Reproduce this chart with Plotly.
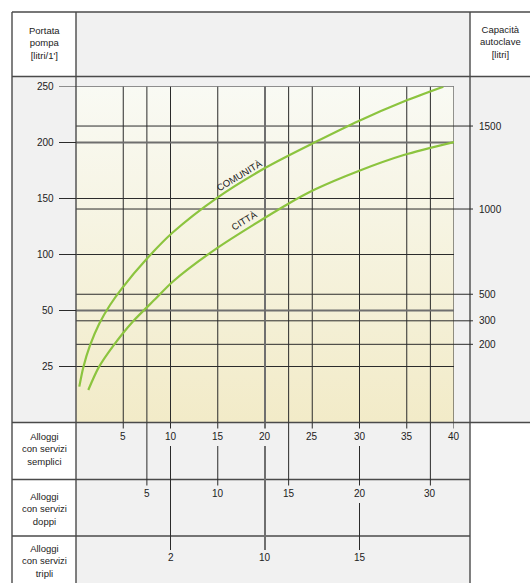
#!/usr/bin/env python3

import numpy as np
import plotly.graph_objects as go

# left scale (portata pompa, litri/1') - ticks are equally spaced on the drawing
portata_ticks = [25, 50, 100, 150, 200, 250]
scala_portata = [0, 25, 50, 100, 150, 200, 250]

# right scale (capacita autoclave, litri) and the flow each one lines up with
capacita_ticks = [1500, 1000, 500, 300, 200]
capacita_in_portata = [214.7, 140.6, 64.5, 45.4, 34.9]

# bottom scales: number of flats, expressed on the "servizi semplici" axis
semplici_ticks = [5, 10, 15, 20, 25, 30, 35, 40]
doppi_ticks = [5, 10, 15, 20, 30]
doppi_in_semplici = [7.5, 15, 22.5, 30, 37.5]
tripli_ticks = [2, 10, 15]
tripli_in_semplici = [10, 20, 30]

# curves (alloggi semplici -> portata)
comunita_alloggi = [0.35, 0.77, 1.48, 2.47, 3.60, 4.84, 7.54, 10.23, 14.89, 20.14, 25.32, 29.98, 34.68, 38.87]
comunita_portata = [16.0, 24.6, 34.4, 44.2, 54.9, 69.6, 96.6, 119.6, 150.4, 177.9, 200.4, 219.5, 236.6, 249.8]
citta_alloggi = [1.30, 2.40, 3.88, 6.0, 8.47, 10.23, 14.89, 22.43, 25.32, 29.98, 34.68, 40.0]
citta_portata = [14.5, 24.6, 33.9, 45.0, 60.9, 75.7, 105.5, 145.1, 158.2, 174.8, 188.8, 200.4]

font_family = 'Liberation Sans, Arial, sans-serif'
text_color = '#222222'
line_color = '#2b2b2b'
frame_color = '#4a4a4a'
grey_bg = '#f1f1f1'
green = '#8cc43f'
W, H = 530, 583

# table geometry (pixels)
col_left, col_mid, col_right = 12, 76, 470
row_top, row_head, row_plot, row_semp, row_dopp = 12, 76.5, 422.5, 479.5, 536
plot_top, plot_right = 86.5, 454
label_y = {'semplici': 436, 'doppi': 493, 'tripli': 557.5}


def px(x):
	return x / W


def py(y):
	return 1 - y / H


def scala(q):
	return np.interp(q, scala_portata, list(range(len(scala_portata))))


ymax = len(scala_portata) - 1
xmax = semplici_ticks[-1]

fig = go.Figure()

# plot background with vertical gradient
fig.add_trace(go.Scatter(
	x=[0, xmax, xmax, 0, 0], y=[0, 0, ymax, ymax, 0],
	fill='toself', mode='none', hoverinfo='skip',
	fillgradient=dict(type='vertical', colorscale=[[0, '#f2ebc8'], [1, '#f9faf4']], start=0, stop=ymax),
))

# vertical grid inside the plot
vx = sorted(set(semplici_ticks + doppi_in_semplici + tripli_in_semplici))
gx, gy = [], []
for x in vx:
	gx += [x, x, None]
	gy += [0, ymax, None]
# horizontal grid inside the plot
for q in portata_ticks + capacita_in_portata:
	y = float(scala(q))
	gx += [0, xmax, None]
	gy += [y, y, None]
fig.add_trace(go.Scatter(x=gx, y=gy, mode='lines', line=dict(color=line_color, width=1), hoverinfo='skip'))

# a few heavier grey lines
hx, hy = [20, 20, None], [0, ymax, None]
for q in [200, 50]:
	y = float(scala(q))
	hx += [0, xmax, None]
	hy += [y, y, None]
fig.add_trace(go.Scatter(x=hx, y=hy, mode='lines', line=dict(color='#6f6f6f', width=2), hoverinfo='skip'))

# curves
fig.add_trace(go.Scatter(x=comunita_alloggi, y=scala(comunita_portata), mode='lines',
	line=dict(color=green, width=2.2, shape='spline', smoothing=0.8), hoverinfo='skip'))
fig.add_trace(go.Scatter(x=citta_alloggi, y=scala(citta_portata), mode='lines',
	line=dict(color=green, width=2.2, shape='spline', smoothing=0.8), hoverinfo='skip'))

shapes = []


def rect(x0, y0, x1, y1, color):
	shapes.append(dict(type='rect', xref='paper', yref='paper', x0=px(x0), x1=px(x1), y0=py(y0), y1=py(y1),
		fillcolor=color, line_width=0, layer='below'))


def hline(y, x0, x1, color=frame_color, width=1.4):
	shapes.append(dict(type='line', xref='paper', yref='paper', x0=px(x0), x1=px(x1), y0=py(y), y1=py(y),
		line=dict(color=color, width=width)))


def vline(x, y0, y1, color=frame_color, width=1.4):
	shapes.append(dict(type='line', xref='paper', yref='paper', x0=px(x), x1=px(x), y0=py(y0), y1=py(y1),
		line=dict(color=color, width=width)))


# grey cells
rect(col_mid, row_top, col_right, row_head, grey_bg)
rect(col_left, row_head, W, row_plot, grey_bg)
rect(col_mid, row_plot, col_right, H, grey_bg)

# table frame
hline(row_top, col_left, W)
hline(row_head, col_left, W)
hline(row_plot, col_left, W)
hline(row_semp, col_left, col_right)
hline(row_dopp, col_left, col_right)
vline(col_left, row_top, H)
vline(col_mid, row_top, H)
vline(col_right, row_top, H)

annotations = []


def label(text, x, y, xref='paper', yref='paper', xanchor='center', size=10, angle=0):
	annotations.append(dict(text=text, x=x, y=y, xref=xref, yref=yref, xanchor=xanchor, yanchor='middle',
		showarrow=False, textangle=angle, font=dict(family=font_family, size=size, color=text_color)))


# left scale ticks and labels
for v in portata_ticks:
	y = float(scala(v))
	shapes.append(dict(type='line', xref='paper', yref='y', x0=px(59), x1=px(col_mid), y0=y, y1=y,
		line=dict(color=line_color, width=1)))
	label(str(v), px(56), y, yref='y', xanchor='right')

# right scale ticks and labels
for v, q in zip(capacita_ticks, capacita_in_portata):
	y = float(scala(q))
	shapes.append(dict(type='line', xref='paper', yref='y', x0=px(plot_right), x1=px(473), y0=y, y1=y,
		line=dict(color=line_color, width=1)))
	label(str(v), px(476.5), y, yref='y', xanchor='left')

# bottom scales: labels and the lines running down between them
ends = {}
for name, ticks, pos in [('semplici', semplici_ticks, semplici_ticks),
						 ('doppi', doppi_ticks, doppi_in_semplici),
						 ('tripli', tripli_ticks, tripli_in_semplici)]:
	for t, x in zip(ticks, pos):
		ends.setdefault(x, []).append(label_y[name])
		label(str(t), x, py(label_y[name]), xref='x')

for x, lys in ends.items():
	start = row_plot
	col = '#6f6f6f' if x == 20 else line_color
	wid = 2 if x == 20 else 1
	for ly in sorted(lys):
		shapes.append(dict(type='line', xref='x', yref='paper', x0=x, x1=x, y0=py(start), y1=py(ly - 7.5),
			line=dict(color=col, width=wid)))
		start = ly + 10

# headers
label("Portata<br>pompa<br>[litri/1']", px(44), py(42.5), size=9.5)
label('Capacità<br>autoclave<br>[litri]', px(500), py(42), size=9.5)
label('Alloggi<br>con servizi<br>semplici', px(44), py(449.5), size=9.5)
label('Alloggi<br>con servizi<br>doppi', px(44), py(508.5), size=9.5)
label('Alloggi<br>con servizi<br>tripli', px(44), py(561), size=9.5)

# curve names
label('COMUNITÀ', 17.28, float(scala(170.1)), xref='x', yref='y', size=9.5, angle=-31)
label('CITTÀ', 17.78, float(scala(130.8)), xref='x', yref='y', size=9.5, angle=-31)

fig.update_layout(
	width=W,
	height=H,
	margin=dict(l=0, r=0, t=0, b=0, pad=0),
	paper_bgcolor='white',
	plot_bgcolor='rgba(0,0,0,0)',
	showlegend=False,
	xaxis=dict(domain=[px(col_mid), px(plot_right)], range=[0, xmax], visible=False, fixedrange=True),
	yaxis=dict(domain=[py(row_plot), py(plot_top)], range=[0, ymax], visible=False, fixedrange=True),
	shapes=shapes,
	annotations=annotations,
)

fig.write_html('out.html', config={'displayModeBar': False}, post_script="document.body.style.margin='0';")
